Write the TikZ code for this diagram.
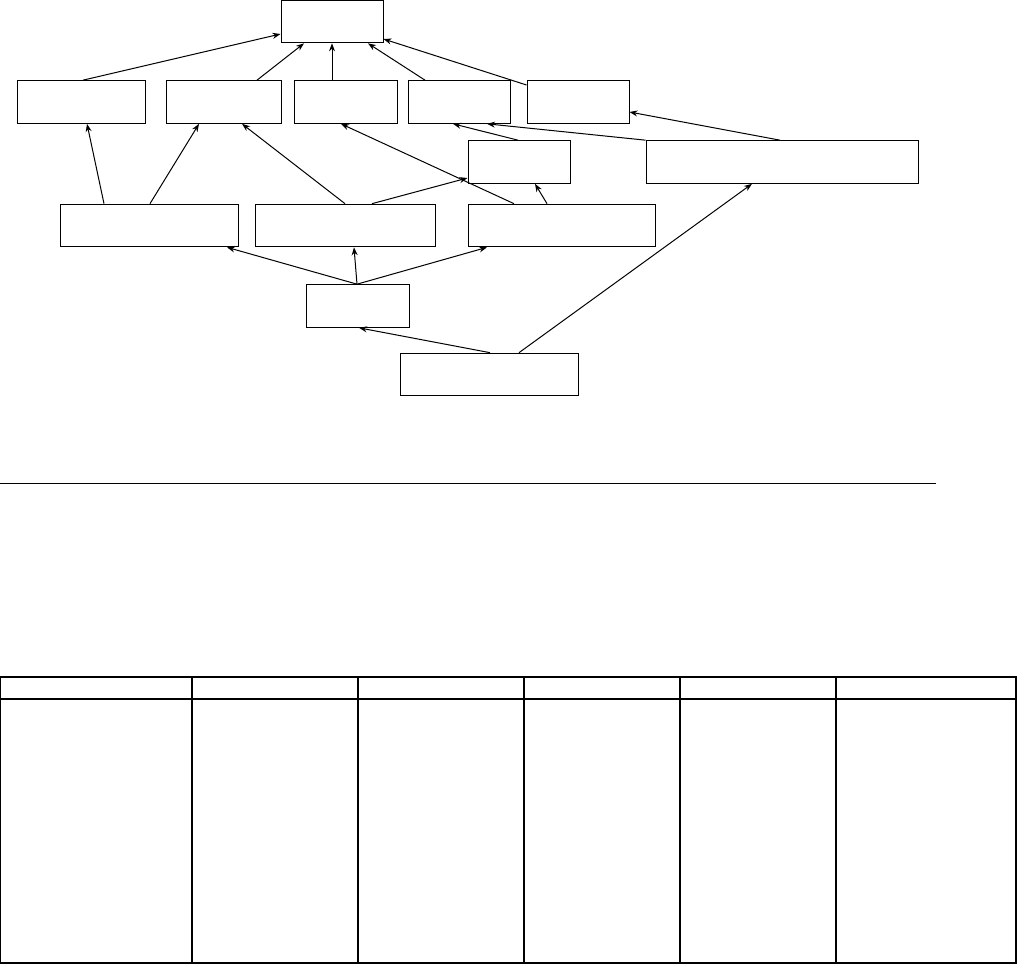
\documentclass[tikz,border=0pt]{standalone}
\usepackage{tikz}
\usetikzlibrary{arrows.meta}

\begin{document}
\begin{tikzpicture}[x=0.75pt, y=-0.75pt, line width=0.75pt, >={Stealth[length=6pt,width=4.5pt]},
    box/.style={draw, inner sep=0pt, minimum height=32pt}]
    \useasboundingbox (0,0) rectangle (1017,964);
    % boxes
    \node[box, minimum width=76.5pt] (root) at (332,21.5) {};
    \node[box, minimum width=96pt] (a1) at (81,102) {};
    \node[box, minimum width=86.25pt] (a2) at (223.5,102) {};
    \node[box, minimum width=77.25pt] (a3) at (345.5,102) {};
    \node[box, minimum width=76.5pt] (a4) at (459,102) {};
    \node[box, minimum width=76.5pt] (a5) at (578,102) {};
    \node[box, minimum width=76.5pt] (b1) at (519,162) {};
    \node[box, minimum width=204pt] (b2) at (782,162) {};
    \node[box, minimum width=133.5pt] (c1) at (149,225.5) {};
    \node[box, minimum width=135pt] (c2) at (345,225.5) {};
    \node[box, minimum width=140.25pt] (c3) at (561.5,225.5) {};
    \node[box, minimum width=77.25pt] (d1) at (357.5,306) {};
    \node[box, minimum width=133.5pt] (e1) at (489,374.5) {};
    % arrows
    \draw[->] (a1.north -| 83,0) -- (root.west |- 0,34);
    \draw[->] (a2.north -| 257,0) -- (root.south -| 304,0);
    \draw[->] (a3.north -| 332,0) -- (root.south -| 332,0);
    \draw[->] (a4.north -| 425,0) -- (root.south -| 368,0);
    \draw[->] (a5.west |- 0,85) -- (root.east |- 0,39);
    \draw[->] (b2.north -| 780,0) -- (a5.east |- 0,112);
    \draw[->] (b2.north west) -- (a4.south -| 487,0);
    \draw[->] (b1.north -| 518,0) -- (a4.south -| 453,0);
    \draw[->] (c1.north -| 104,0) -- (a1.south -| 87,0);
    \draw[->] (c1.north -| 150,0) -- (a2.south -| 199,0);
    \draw[->] (c2.north -| 345,0) -- (a2.south -| 242,0);
    \draw[->] (c2.north -| 372,0) -- (b1.west |- 0,178);
    \draw[->] (c3.north -| 514,0) -- (a3.south -| 341,0);
    \draw[->] (c3.north -| 547,0) -- (b1.south -| 535,0);
    \draw[->] (d1.north -| 357,0) -- (c1.south -| 227,0);
    \draw[->] (d1.north -| 357,0) -- (c2.south -| 354,0);
    \draw[->] (d1.north -| 357,0) -- (c3.south -| 487,0);
    \draw[->] (e1.north -| 490,0) -- (d1.south -| 359,0);
    \draw[->] (e1.north -| 519,0) -- (b2.south -| 752,0);
    % rule and table
    \draw (0,483) -- (936,483);
    \draw[line width=1pt] (0,677) rectangle (1016,963);
    \draw[line width=1pt] (0,699) -- (1016,699);
    \foreach \x in {192,358,524,680,836}
        \draw[line width=1pt] (\x,677) -- (\x,963);
\end{tikzpicture}
\end{document}
